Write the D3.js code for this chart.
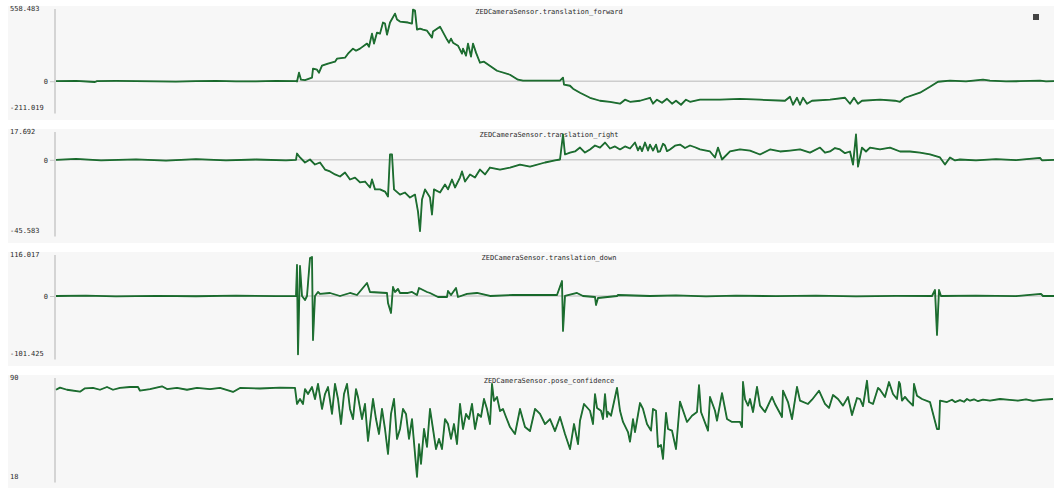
<!DOCTYPE html>
<html>
<head>
<meta charset="utf-8">
<script src="https://cdn.jsdelivr.net/npm/d3@7"></script>
<style>
  html, body { margin: 0; padding: 0; background: #fff; }
  svg text { font-family: "DejaVu Sans Mono", monospace; font-size: 7px; fill: #2b2b2b; }
</style>
</head>
<body>
<div id="chart"></div>
<script>
// panel titles and axis end labels
const titles = [
    "ZEDCameraSensor.translation_forward",
    "ZEDCameraSensor.translation_right",
    "ZEDCameraSensor.translation_down",
    "ZEDCameraSensor.pose_confidence"
];
const maxLabels = ["558.483", "17.692", "116.017", "90"];
const minLabels = ["-211.019", "-45.583", "-101.425", "18"];
// y domains [min, max] for each panel
const yDomains = [[-211.019, 558.483], [-45.583, 17.692], [-165.6, 116.017], [18, 90]];
const timeDomain = [0, 998];

// [time, value] samples
const forwardSeries = [
    [0,0],[20,2],[39,-6],[41,0],[60,2],[80,1],[100,-2],[120,-3],[140,1],[160,2],[180,-2],[200,-1],[220,2],[240,1],
    [241,-2],[243,66],[245,12],[249,9],[256,27],[257,97],[261,89],[263,66],[266,120],[272,136],
    [279,151],[281,174],[289,182],[292,213],[297,252],[300,236],[304,252],[311,291],[313,267],
    [316,368],[318,291],[321,376],[324,368],[327,454],[329,446],[331,360],[334,454],[339,523],
    [341,477],[344,461],[352,454],[356,446],[357,554],[359,546],[361,399],[364,407],[367,399],
    [371,391],[376,337],[377,384],[384,422],[391,322],[393,298],[395,329],[397,298],[402,275],
    [406,213],[407,252],[410,198],[412,291],[415,190],[417,291],[420,221],[424,143],[428,151],
    [441,81],[454,50],[462,12],[467,4],[504,4],[507,27],[508,-27],[514,-35],[517,-58],[524,-89],
    [534,-128],[544,-151],[554,-159],[564,-174],[569,-143],[574,-159],[584,-151],[594,-128],
    [597,-174],[601,-143],[606,-167],[611,-136],[616,-174],[620,-151],[625,-182],[630,-143],
    [634,-159],[644,-143],[664,-143],[684,-136],[704,-143],[729,-151],[734,-120],[737,-182],
    [741,-128],[744,-182],[747,-128],[751,-174],[756,-151],[774,-143],[789,-128],[794,-174],
    [798,-128],[802,-174],[806,-151],[824,-143],[839,-151],[844,-159],[849,-128],[864,-89],
    [874,-43],[882,-4],[894,4],[910,-2],[927,12],[934,4],[950,-1],[964,0],[984,4],[990,-2],[998,0]
];

const rightSeries = [
    [0,0],[20,0.6],[45,-0.4],[80,0.3],[110,-0.5],[140,0.4],[170,-0.3],[200,0.2],[230,-0.4],[240,0],
    [241,4.0],[244,1.5],[249,-1.7],[254,0.2],[259,-3.0],[264,-1.7],[269,-6.2],[274,-7.4],
    [279,-9.3],[284,-10.6],[289,-8.1],[294,-12.5],[299,-11.3],[304,-14.4],[309,-13.8],
    [314,-17.6],[316,-12.5],[319,-18.8],[324,-18.8],[329,-20.2],[332,-23.3],[334,3.4],
    [336,3.4],[338,-18.8],[344,-22.1],[349,-20.8],[354,-24.0],[359,-22.1],[362,-32.9],
    [364,-45.4],[366,-25.2],[369,-18.8],[374,-24.0],[376,-34.8],[378,-18.8],[384,-20.8],
    [389,-15.7],[392,-18.8],[396,-12.5],[399,-17.6],[404,-11.3],[406,-7.4],[409,-13.8],
    [414,-9.3],[419,-11.3],[424,-6.2],[429,-9.3],[434,-4.9],[444,-6.2],[454,-4.9],[464,-3.0],
    [474,-4.3],[489,-1.7],[499,-0.4],[504,0.2],[507,16.1],[509,3.4],[514,4.6],[519,5.3],
    [524,7.8],[529,4.6],[534,6.6],[539,9.1],[544,7.8],[549,11.0],[554,7.2],[559,8.5],[564,6.6],
    [569,8.5],[574,7.2],[579,11.0],[582,6.0],[584,8.5],[586,5.5],[589,11.0],[592,5.9],[594,9.7],
    [597,5.9],[600,9.7],[602,5.0],[604,5.3],[607,10.2],[609,9.1],[611,5.5],[614,6.6],[619,9.0],
    [624,9.7],[629,7.5],[634,9.1],[639,8.0],[644,6.6],[654,5.3],[659,1.5],[662,7.8],
    [666,0.2],[674,5.3],[684,6.6],[694,5.9],[704,3.4],[714,6.6],[724,5.3],[734,5.9],[744,6.6],
    [754,4.6],[764,7.8],[769,4.5],[774,5.3],[779,7.5],[784,6.6],[789,4.2],[794,5.3],[797,-3.0],
    [800,16.1],[802,-4.3],[806,7.8],[810,5.3],[814,7.8],[824,6.6],[834,7.8],[844,5.3],[854,5.3],
    [864,4.6],[874,3.4],[884,1.5],[889,-3.0],[894,1.5],[899,-0.4],[904,0.2],[920,-0.3],[940,0.4],
    [960,-0.2],[984,1.2],[986,-0.3],[998,0]
];

const downSeries = [
    [0,0],[30,1],[60,-1],[100,0.5],[140,-0.8],[180,1],[220,-0.5],[240,0],
    [241,87.7],[242,-165],[244,84.9],[246,0],[249,-11.3],[251,0],[254,107.5],[256,110.4],
    [257,-124.5],[259,0],[262,11.3],[264,5.7],[274,8.5],[284,0],[294,8.5],[301,2.8],[311,36.8],
    [314,11.3],[331,8.5],[332,-19.8],[335,-48.1],[337,25.5],[339,11.3],[342,19.8],[344,8.5],
    [352,8.5],[356,11.3],[361,2.8],[363,22.6],[371,11.3],[374,8.5],[382,-2.8],[391,-2.8],
    [392,14.2],[395,2.8],[400,22.6],[402,-2.8],[411,5.7],[421,8.5],[434,0],[457,2.8],[481,2.8],
    [501,2.8],[506,42.5],[507,-99],[509,0],[521,8.5],[527,0],[539,-2.8],[540,-25.5],[542,-5.7],
    [561,0],[562,2.8],[594,0],[620,1.5],[650,-1],[680,1],[720,-0.5],[760,1],[800,-1],[840,0.5],
    [876,0],[879,17],[881,-110],[883,17],[885,0],[920,1],[960,-0.5],[985,5.7],[987,0],[998,0]
];

const confidenceSeries = [
    [0,81.5],[4,83.0],[11,81.5],[24,80.1],[29,82.5],[37,82.8],[44,81.5],[51,83.5],[57,81.5],
    [64,82.8],[74,83.5],[82,83.5],[84,80.8],[94,82.0],[106,84.0],[111,82.0],[121,82.8],
    [131,81.5],[141,82.8],[154,82.0],[164,82.8],[177,79.9],[184,82.8],[204,82.4],[224,83.1],
    [239,82.8],[241,71.2],[244,74.8],[247,71.2],[249,82.0],[252,78.4],[256,83.5],[259,74.8],
    [262,85.7],[266,67.6],[269,78.4],[272,83.5],[276,64.0],[279,85.7],[282,74.8],[285,56.7],
    [288,78.4],[291,85.7],[294,67.6],[297,60.3],[300,82.0],[302,76.3],[306,60.3],[309,71.2],
    [312,44.4],[314,56.7],[317,74.8],[320,60.3],[323,49.5],[326,67.6],[329,53.1],[332,35.0],
    [335,64.0],[338,74.8],[341,45.9],[344,53.1],[347,67.6],[350,64.0],[353,45.9],[356,60.3],
    [359,35.0],[361,18.4],[363,42.2],[365,27.8],[368,53.1],[371,40.1],[374,67.6],[377,53.1],
    [380,38.6],[383,45.9],[386,38.6],[389,60.3],[392,56.7],[395,45.9],[398,56.7],[401,42.2],
    [404,71.2],[407,53.1],[410,64.0],[413,60.3],[416,71.2],[419,53.1],[422,64.0],[425,61.8],
    [428,74.8],[431,67.6],[434,56.7],[436,85.7],[438,73.4],[441,76.3],[444,66.1],[447,67.6],
    [450,61.8],[454,54.5],[459,49.5],[464,67.6],[469,54.5],[474,51.6],[479,67.6],[484,64.0],
    [489,56.7],[494,60.3],[499,51.6],[504,61.8],[509,49.5],[514,38.6],[518,56.7],[522,42.2],
    [524,59.1],[528,71.2],[534,66.3],[537,56.7],[539,78.4],[541,68.3],[545,66.3],[547,60.3],
    [549,78.4],[551,61.8],[552,65.4],[555,62.7],[561,82.8],[564,66.3],[567,58.2],[572,50.9],
    [574,43.9],[577,60.3],[579,50.9],[584,71.9],[587,67.6],[591,56.7],[595,51.9],[597,67.6],
    [600,66.3],[602,40.1],[605,41.5],[607,31.4],[610,64.7],[612,53.1],[616,51.9],[620,38.6],
    [624,72.9],[631,58.2],[636,62.7],[641,65.4],[643,84.9],[645,65.4],[652,51.9],[654,76.3],
    [659,66.3],[661,59.1],[666,79.1],[671,60.3],[676,58.2],[684,58.2],[686,54.5],[687,87.1],
    [689,74.8],[692,70.0],[694,74.8],[697,65.4],[701,83.5],[704,70.0],[709,65.4],[716,76.3],
    [719,71.2],[726,61.8],[727,80.8],[732,72.6],[736,60.3],[741,83.5],[744,73.6],[752,71.2],
    [756,74.3],[763,80.8],[769,71.2],[773,68.3],[777,77.7],[782,74.8],[787,70.0],[792,76.3],
    [796,63.2],[801,75.5],[804,74.8],[807,69.7],[811,88.0],[813,72.6],[817,71.2],[822,82.8],
    [824,81.5],[829,76.3],[833,87.1],[837,78.4],[841,74.8],[843,87.1],[844,85.7],[846,73.6],
    [849,76.3],[852,73.6],[857,70.0],[858,85.7],[861,77.2],[866,74.8],[874,72.6],[881,53.1],
    [883,53.1],[884,73.6],[891,72.6],[896,74.3],[899,72.6],[904,74.0],[908,72.8],[911,74.8],
    [914,73.6],[918,74.6],[922,73.2],[927,74.3],[934,73.6],[944,74.8],[951,74.3],[962,73.6],
    [970,74.6],[977,73.4],[987,74.3],[997,74.8]
];

const allSeries = [forwardSeries, rightSeries, downSeries, confidenceSeries];

const width = 1054, height = 488;
const panelStep = 123, panelHeight = 114, firstTop = 6;
const bgLeft = 8, axisX = 55, plotLeft = 56, plotRight = 1054;

const svg = d3.select("#chart").append("svg")
    .attr("width", width)
    .attr("height", height);

const x = d3.scaleLinear().domain(timeDomain).range([plotLeft, plotRight]);

allSeries.forEach((series, i) => {
    const top = firstTop + i * panelStep;
    const rTop = top + 3, rBot = top + 102.5; // y range inside panel
    const g = svg.append("g").classed("panel", true);

    g.append("rect")
        .attr("x", bgLeft)
        .attr("y", top)
        .attr("width", width - bgLeft)
        .attr("height", panelHeight)
        .attr("fill", "#f7f7f7");

    const y = d3.scaleLinear().domain(yDomains[i]).range([rBot, rTop]);

    // zero line, only when zero is in range
    const hasZero = yDomains[i][0] < 0 && yDomains[i][1] > 0;
    if (hasZero) {
        g.append("line")
            .attr("x1", plotLeft).attr("x2", plotRight)
            .attr("y1", y(0)).attr("y2", y(0))
            .attr("stroke", "#cdcdcd")
            .attr("stroke-width", 1.5);
    }

    // vertical axis line
    g.append("line")
        .attr("x1", axisX).attr("x2", axisX)
        .attr("y1", rTop).attr("y2", rBot + 5)
        .attr("stroke", "#c8c8c8")
        .attr("stroke-width", 1.5);

    // zero tick via axis
    const axis = g.append("g")
        .attr("transform", `translate(${axisX},0)`)
        .call(d3.axisLeft(y).tickValues(hasZero ? [0] : []).tickSize(5).tickFormat(d3.format("d")));
    axis.select(".domain").remove();
    axis.selectAll(".tick line").attr("stroke", "#c8c8c8");
    axis.selectAll(".tick text")
        .attr("x", -7)
        .style("font-family", "DejaVu Sans Mono, monospace")
        .style("font-size", "7px")
        .attr("fill", "#2b2b2b");

    // end labels
    g.append("text")
        .attr("x", 10).attr("y", rTop)
        .attr("dominant-baseline", "middle")
        .text(maxLabels[i]);
    g.append("text")
        .attr("x", 10).attr("y", rBot)
        .attr("dominant-baseline", "middle")
        .text(minLabels[i]);

    // title
    g.append("text")
        .attr("x", 549).attr("y", rTop + 3.5)
        .attr("text-anchor", "middle")
        .attr("dominant-baseline", "middle")
        .text(titles[i]);

    const line = d3.line()
        .x(d => x(d[0]))
        .y(d => y(d[1]));

    g.append("path")
        .datum(series)
        .attr("d", line)
        .attr("fill", "none")
        .attr("stroke", "#0f6123")
        .attr("stroke-width", 1.8)
        .attr("stroke-linejoin", "round");
    g.append("path")
        .datum(series)
        .attr("d", line)
        .attr("fill", "none")
        .attr("stroke", "#5aa66b")
        .attr("stroke-opacity", 0.4)
        .attr("stroke-width", 0.6);

    if (i === 0) {
        g.append("rect")
            .attr("x", width - 21)
            .attr("y", top + 8)
            .attr("width", 6)
            .attr("height", 6)
            .attr("fill", "#444");
    }
});
</script>
</body>
</html>
